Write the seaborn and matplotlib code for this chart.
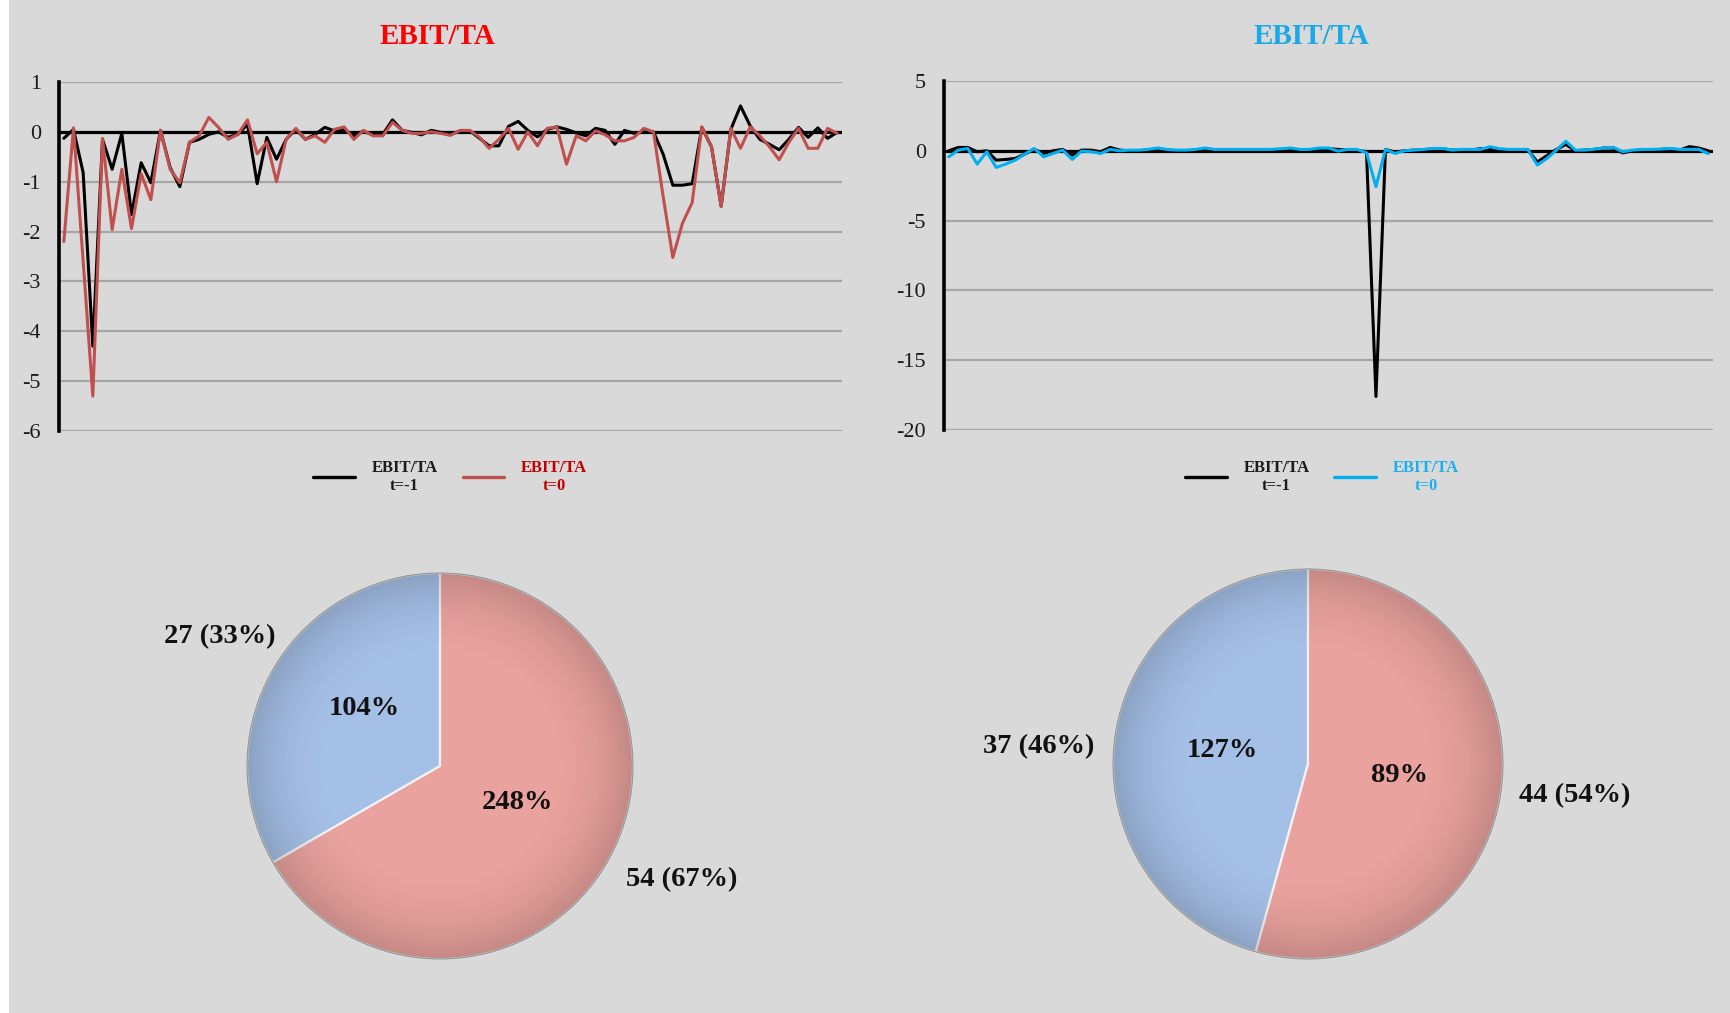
import numpy as np
import pandas as pd
import matplotlib
matplotlib.use("Agg")
import matplotlib.pyplot as plt
import seaborn as sns
from matplotlib.lines import Line2D
from matplotlib.patches import Circle

# ---------------- data ----------------
left_t_minus1 = [-0.13, 0.05, -0.82, -4.3, -0.15, -0.75, -0.03, -1.66, -0.62, -1.02,
                 0.03, -0.72, -1.10, -0.21, -0.15, -0.05, 0.0, -0.11, -0.05, 0.15,
                 -1.04, -0.11, -0.55, -0.15, 0.05, -0.15, -0.05, 0.09, 0.02, 0.05,
                 -0.08, 0.02, -0.07, -0.05, 0.24, 0.03, -0.01, -0.06, 0.03, -0.01,
                 -0.05, 0.02, 0.02, -0.13, -0.28, -0.28, 0.11, 0.21, 0.03, -0.10,
                 0.05, 0.10, 0.05, -0.02, -0.08, 0.07, 0.03, -0.25, 0.03, -0.03,
                 0.0, 0.0, -0.45, -1.07, -1.07, -1.04, 0.09, -0.30, -1.49, 0.05,
                 0.52, 0.12, -0.15, -0.25, -0.36, -0.15, 0.09, -0.11, 0.08, -0.13,
                 -0.01]
left_t0 = [-2.2, 0.08, -2.6, -5.3, -0.13, -1.96, -0.75, -1.94, -0.84, -1.36,
           0.03, -0.75, -1.02, -0.21, -0.08, 0.29, 0.09, -0.15, -0.05, 0.24,
           -0.44, -0.21, -1.0, -0.15, 0.07, -0.15, -0.08, -0.21, 0.05, 0.10,
           -0.15, 0.03, -0.08, -0.08, 0.19, 0.03, -0.03, -0.03, 0.0, -0.03,
           -0.07, 0.03, 0.03, -0.11, -0.33, -0.15, 0.07, -0.35, 0.0, -0.28,
           0.07, 0.10, -0.65, -0.08, -0.18, 0.02, -0.06, -0.18, -0.18, -0.11,
           0.07, 0.0, -1.3, -2.52, -1.83, -1.42, 0.10, -0.30, -1.50, 0.07,
           -0.33, 0.10, -0.08, -0.30, -0.56, -0.21, 0.07, -0.33, -0.33, 0.07,
           -0.03]
right_t_minus1 = [0.0, 0.24, 0.24, -0.07, 0.0, -0.67, -0.62, -0.55, -0.24, 0.10,
                  -0.19, 0.0, 0.10, -0.31, 0.05, 0.05, -0.07, 0.24, 0.05, 0.0,
                  0.0, 0.05, 0.15, 0.05, 0.0, 0.0, 0.05, 0.15, 0.05, 0.0,
                  0.0, 0.0, 0.0, 0.0, 0.05, 0.10, 0.15, 0.05, 0.05, 0.15,
                  0.15, 0.10, 0.05, 0.0, -0.05, -17.6, 0.10, -0.10, 0.0, 0.05,
                  0.05, 0.15, 0.15, 0.05, 0.05, 0.05, 0.15, 0.10, 0.05, 0.05,
                  0.05, 0.05, -0.8, -0.35, 0.10, 0.45, 0.0, 0.05, 0.10, 0.20,
                  0.20, -0.15, 0.0, 0.05, 0.05, 0.10, 0.15, 0.05, 0.30, 0.20,
                  0.0]
right_t0 = [-0.43, 0.05, 0.17, -0.95, -0.07, -1.19, -0.95, -0.67, -0.24, 0.17,
            -0.43, -0.19, 0.05, -0.62, -0.02, -0.07, -0.19, 0.10, 0.0, 0.05,
            0.05, 0.10, 0.20, 0.10, 0.05, 0.05, 0.10, 0.20, 0.10, 0.10,
            0.10, 0.10, 0.10, 0.10, 0.10, 0.15, 0.20, 0.10, 0.10, 0.20,
            0.20, -0.02, 0.10, 0.10, -0.14, -2.57, 0.10, -0.19, 0.0, 0.05,
            0.10, 0.17, 0.17, 0.05, 0.10, 0.10, 0.10, 0.29, 0.15, 0.10,
            0.10, 0.10, -1.02, -0.55, 0.05, 0.69, 0.05, 0.05, 0.12, 0.20,
            0.25, -0.07, 0.05, 0.10, 0.10, 0.12, 0.17, 0.10, 0.10, 0.10,
            -0.20]

left_yticks = [-6, -5, -4, -3, -2, -1, 0, 1]
right_yticks = [-20, -15, -10, -5, 0, 5]

left_pie_counts = [27, 54]
left_pie_inner = ["104%", "248%"]
right_pie_counts = [37, 44]
right_pie_inner = ["127%", "89%"]

title_text = "EBIT/TA"
legend_labels = ["EBIT/TA\nt=-1", "EBIT/TA\nt=0"]

# ---------------- style ----------------
BG = "#D9D9D9"
GRID = "#A6A6A6"
BLACK = "#000000"
RED = "#C0504D"
BLUE = "#00B0F0"
PIE_BLUE = "#A5C0E7"
PIE_RED = "#E9A29E"

sns.set_theme(style="white")
plt.rcParams["font.family"] = ["Liberation Serif", "DejaVu Serif"]

W, H = 1731, 1013
fig = plt.figure(figsize=(W / 100, H / 100), dpi=100)
fig.patch.set_facecolor("white")
fig.add_artist(plt.Rectangle((9 / W, 0), 1 - 9 / W, 1, transform=fig.transFigure,
                             facecolor=BG, edgecolor="none", zorder=-10))


def px_axes(x0, y0, x1, y1):
    """axes from pixel box (top-left origin)"""
    return fig.add_axes([x0 / W, 1 - y1 / H, (x1 - x0) / W, (y1 - y0) / H])


def line_panel(ax, s1, s2, c2, yticks):
    n = len(s1)
    df = pd.DataFrame({"firm": np.arange(n), "t-1": s1, "t0": s2})
    ax.set_facecolor(BG)
    for yv in yticks:
        ax.axhline(yv, color=GRID, lw=1.6, zorder=0)
    ax.axhline(0, color=BLACK, lw=2.3, zorder=1)
    sns.lineplot(data=df, x="firm", y="t-1", color=BLACK, lw=2.2, ax=ax, zorder=3)
    sns.lineplot(data=df, x="firm", y="t0", color=c2, lw=2.2, ax=ax, zorder=4)
    ax.set_xlim(-0.5, n - 0.5)
    ax.set_ylim(yticks[0], yticks[-1])
    ax.set_yticks(yticks)
    ax.set_yticklabels([str(t) for t in yticks], fontsize=16)
    ax.set_xticks([])
    ax.set_xlabel("")
    ax.set_ylabel("")
    for sp in ["top", "right", "bottom"]:
        ax.spines[sp].set_visible(False)
    ax.spines["left"].set_color(BLACK)
    ax.spines["left"].set_linewidth(2.6)
    ax.tick_params(axis="y", length=0, pad=13, labelcolor="#1a1a1a")


def legend_panel(c2, text_c2, cx_px, cy_px):
    handles = [Line2D([0], [0], color=BLACK, lw=2.4),
               Line2D([0], [0], color=c2, lw=2.4)]
    leg = fig.legend(handles, legend_labels, loc="center",
                     bbox_to_anchor=(cx_px / W, 1 - cy_px / H), ncol=2, frameon=False,
                     handlelength=2.5, columnspacing=1.5, handletextpad=1.0,
                     prop={"family": ["Liberation Serif"], "weight": "bold", "size": 12})
    for t, c in zip(leg.get_texts(), ["#1a1a1a", text_c2]):
        t.set_color(c)
        t.set_multialignment("center")


# left line chart
axL = px_axes(59, 82, 842, 431)
line_panel(axL, left_t_minus1, left_t0, RED, left_yticks)
fig.text(438 / W, 1 - 36 / H, title_text, color="#FF0000", fontsize=21,
         fontweight="bold", ha="center", va="center")
legend_panel(RED, "#C00000", 450, 477)

# right line chart
axR = px_axes(944, 81, 1713, 430)
line_panel(axR, right_t_minus1, right_t0, BLUE, right_yticks)
fig.text(1311 / W, 1 - 36 / H, title_text, color="#1AA9E6", fontsize=21,
         fontweight="bold", ha="center", va="center")
legend_panel(BLUE, "#1AB0F0", 1322, 477)


def pie_panel(cx, cy, R, counts, inner, inner_pos, outer_pos):
    ax = px_axes(cx - 1.5 * R, cy - 1.1 * R, cx + 1.5 * R, cy + 1.1 * R)
    ax.set_facecolor("none")
    wedges, _ = ax.pie(counts, colors=[PIE_BLUE, PIE_RED], startangle=90,
                       counterclock=True,
                       wedgeprops={"linewidth": 1.6, "edgecolor": "#F2F2F5"})
    # soft darkening toward the rim (Excel-like shading)
    g = np.linspace(-1, 1, 400)
    X, Y = np.meshgrid(g, g)
    r = np.sqrt(X ** 2 + Y ** 2)
    shade = np.zeros((400, 400, 4))
    shade[..., 3] = np.clip((r - 0.55) / 0.45, 0, 1) ** 2 * 0.16
    im = ax.imshow(shade, extent=(-1, 1, -1, 1), origin="lower", zorder=5,
                   interpolation="bilinear")
    clip = Circle((0, 0), 1, transform=ax.transData)
    im.set_clip_path(clip)
    ax.add_patch(Circle((0, 0), 1.0, fill=False, edgecolor="#9A9A9A", lw=1.0,
                        zorder=6))
    ax.set_xlim(-1.5, 1.5)
    ax.set_ylim(-1.1, 1.1)
    ax.set_aspect("auto")
    ax.axis("off")
    total = sum(counts)
    for lab, (x, y) in zip(inner, inner_pos):
        ax.text(x, y, lab, ha="center", va="center", fontsize=20.5, fontweight="bold",
                color="#111111", zorder=7)
    for c, (x, y) in zip(counts, outer_pos):
        ax.text(x, y, f"{c} ({round(100 * c / total)}%)", ha="center", va="center",
                fontsize=20.5, fontweight="bold", color="#111111", zorder=7)


pie_panel(440, 766, 193, left_pie_counts, left_pie_inner,
          [(-0.39, 0.30), (0.40, -0.19)], [(-1.14, 0.67), (1.25, -0.59)])
pie_panel(1308, 764, 195, right_pie_counts, right_pie_inner,
          [(-0.44, 0.07), (0.47, -0.06)], [(-1.38, 0.09), (1.37, -0.16)])

fig.savefig("out.png", dpi=100, facecolor=fig.get_facecolor())
